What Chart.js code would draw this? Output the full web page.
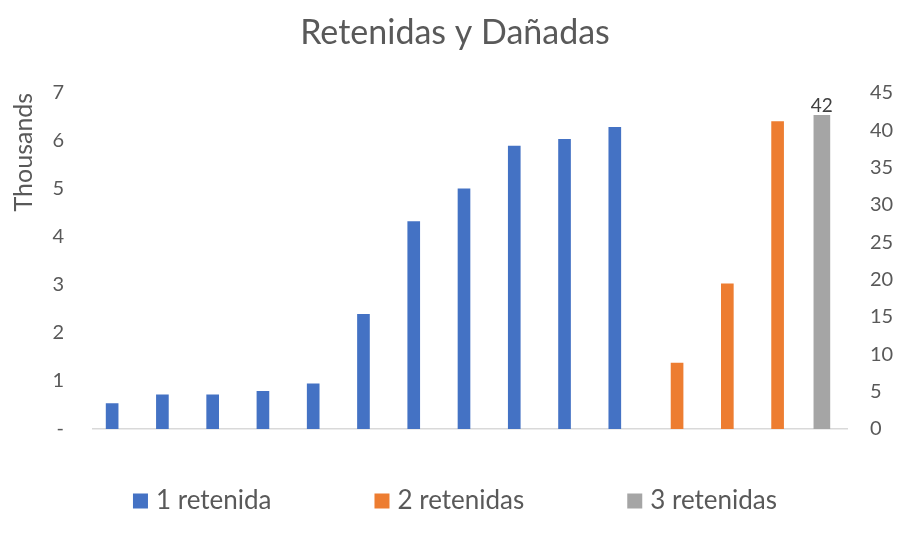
<!DOCTYPE html>
<html>
<head>
<meta charset="utf-8">
<script src="https://cdn.jsdelivr.net/npm/chart.js@4"></script>
<style>
  html, body { margin: 0; padding: 0; background: #fff; }
  #contenedor { width: 910px; height: 552px; }
</style>
</head>
<body>
<div id="contenedor"><canvas id="grafico"></canvas></div>
<script>
// Datos
var categorias = ['1', '2', '3', '4', '5', '6', '7', '8', '9', '10', '11', '12', '13', '14', '15'];
var unaRetenida = [530, 710, 710, 785, 940, 2390, 4320, 5000, 5890, 6030, 6280, null, null, null, null];
var dosRetenidas = [null, null, null, null, null, null, null, null, null, null, null, 1375, 3020, 6400, null];
var tresRetenidas = [null, null, null, null, null, null, null, null, null, null, null, null, null, null, 42];
var ticksMiles = [0, 1, 2, 3, 4, 5, 6, 7];
var ticksDerecha = [0, 5, 10, 15, 20, 25, 30, 35, 40, 45];

var gris = '#595959';

// Etiqueta de valor sobre la barra gris
var etiquetas = {
    id: 'etiquetas',
    afterDatasetsDraw: function(chart) {
        var ctx = chart.ctx;
        var meta = chart.getDatasetMeta(2);
        ctx.save();
        ctx.font = '19px Lato';
        ctx.fillStyle = '#404040';
        ctx.textAlign = 'center';
        ctx.textBaseline = 'bottom';
        meta.data.forEach(function(barra, i) {
            if (tresRetenidas[i] == null) return;
            ctx.fillText(tresRetenidas[i], barra.x, barra.y);
        });
        ctx.restore();
    }
};

// Leyenda abajo con separación amplia (como en Excel)
var leyenda = {
    id: 'leyenda',
    afterDraw: function(chart) {
        var ctx = chart.ctx;
        ctx.save();
        ctx.font = '26px Lato';
        var items = chart.data.datasets.map(function(d) {
            return { texto: d.label, color: d.backgroundColor, ancho: 15 + 8 + ctx.measureText(d.label).width };
        });
        var hueco = 103;
        var total = items.reduce(function(s, it) { return s + it.ancho; }, 0) + hueco * (items.length - 1);
        var x = (chart.width - total) / 2;
        var y = 501;
        ctx.textBaseline = 'middle';
        items.forEach(function(it) {
            ctx.fillStyle = it.color;
            ctx.fillRect(x, y - 7.5, 15, 15);
            ctx.fillStyle = gris;
            ctx.fillText(it.texto, x + 23, y);
            x += it.ancho + hueco;
        });
        ctx.restore();
    }
};

var ctx = document.getElementById('grafico').getContext('2d');
var grafico = new Chart(ctx, {
    type: 'bar',
    data: {
        labels: categorias,
        datasets: [{
            label: '1 retenida',
            data: unaRetenida,
            backgroundColor: '#4472C4',
            yAxisID: 'y',
            barThickness: 12
        }, {
            label: '2 retenidas',
            data: dosRetenidas,
            backgroundColor: '#ED7D31',
            yAxisID: 'y',
            barThickness: 12
        }, {
            label: '3 retenidas',
            data: tresRetenidas,
            backgroundColor: '#A5A5A5',
            yAxisID: 'y1',
            grouped: false,
            categoryPercentage: 1,
            barPercentage: 1,
            maxBarThickness: 16
        }]
    },
    options: {
        responsive: true,
        maintainAspectRatio: false,
        animation: false,
        layout: { padding: { bottom: 123 } },
        plugins: {
            legend: { display: false },
            tooltip: { enabled: false },
            title: {
                display: true,
                text: 'Retenidas y Dañadas',
                color: gris,
                font: { family: 'Lato', size: 34, weight: 'normal' },
                padding: { top: 13, bottom: 39 }
            }
        },
        scales: {
            x: {
                grid: { display: false, drawTicks: false, tickLength: 0 },
                border: { display: true, color: '#D9D9D9', width: 1.5 },
                ticks: { display: false },
                afterFit: function(s) { s.height = 0; }
            },
            y: {
                position: 'left',
                min: 0,
                max: 7000,
                afterBuildTicks: function(s) {
                    s.ticks = ticksMiles.map(function(v) { return { value: v * 1000 }; });
                },
                grid: { display: false, drawTicks: false, tickLength: 0 },
                border: { display: false },
                ticks: {
                    color: gris,
                    padding: 29,
                    font: { family: 'Lato', size: 20 },
                    callback: function(v) { return v === 0 ? '-' : v / 1000; }
                },
                title: {
                    display: true,
                    text: 'Thousands',
                    align: 'end',
                    color: gris,
                    font: { family: 'Lato', size: 25 },
                    padding: { top: 9, bottom: 0 }
                },
                afterFit: function(s) { s.width = 93; }
            },
            y1: {
                position: 'right',
                min: 0,
                max: 45,
                afterBuildTicks: function(s) {
                    s.ticks = ticksDerecha.map(function(v) { return { value: v }; });
                },
                grid: { display: false, drawTicks: false, tickLength: 0 },
                border: { display: false },
                ticks: {
                    color: gris,
                    padding: 23,
                    font: { family: 'Lato', size: 20 }
                },
                afterFit: function(s) { s.width = 63; }
            }
        }
    },
    plugins: [etiquetas, leyenda]
});
</script>
</body>
</html>
